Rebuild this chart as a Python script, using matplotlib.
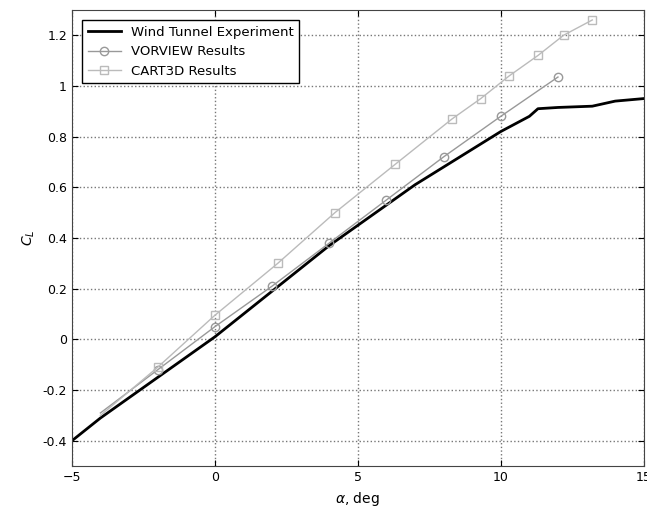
import numpy as np
import matplotlib.pyplot as plt

# wind tunnel data
alpha_wt = [-5, -4, -3, -2, -1, 0, 1, 2, 3, 4, 5, 6, 7, 8, 9, 10, 11, 11.3, 12, 13.2, 14, 15]
cl_wt = [-0.40, -0.31, -0.23, -0.15, -0.07, 0.01, 0.10, 0.19, 0.28, 0.37, 0.45, 0.53, 0.61, 0.68, 0.75, 0.82, 0.88, 0.91, 0.915, 0.92, 0.94, 0.95]

# VORVIEW
alpha_vv = [-4, -2, 0, 2, 4, 6, 8, 10, 12]
cl_vv = [-0.29, -0.12, 0.05, 0.21, 0.38, 0.55, 0.72, 0.88, 1.035]

# CART3D
alpha_c3 = [-4, -2, 0, 2.2, 4.2, 6.3, 8.3, 9.3, 10.3, 11.3, 12.2, 13.2]
cl_c3 = [-0.30, -0.11, 0.095, 0.30, 0.50, 0.69, 0.87, 0.95, 1.04, 1.12, 1.20, 1.26]

xticks = [-5, 0, 5, 10, 15]
yticks = [-0.4, -0.2, 0, 0.2, 0.4, 0.6, 0.8, 1, 1.2]
ytick_labels = ['-0.4', '-0.2', '0', '0.2', '0.4', '0.6', '0.8', '1', '1.2']

fig = plt.figure(figsize=(6.47, 5.18), dpi=100)
ax = fig.add_axes([0.111, 0.100, 0.884, 0.881])

ax.plot(alpha_wt, cl_wt, color='black', lw=2, label='Wind Tunnel Experiment')
ax.plot(alpha_vv, cl_vv, color='#999999', lw=1, marker='o', ms=6, mfc='none',
        mec='#999999', markevery=list(range(1, len(alpha_vv))), label='VORVIEW Results')
ax.plot(alpha_c3, cl_c3, color='#bbbbbb', lw=1, marker='s', ms=6, mfc='none',
        mec='#bbbbbb', markevery=list(range(1, len(alpha_c3))), label='CART3D Results')

ax.set_xlim(-5, 15)
ax.set_ylim(-0.5, 1.3)
ax.set_xticks(xticks)
ax.set_yticks(yticks)
ax.set_yticklabels(ytick_labels)
ax.grid(True, linestyle=':', color='#777777', linewidth=1)
ax.tick_params(direction='in', labelsize=9, length=4, top=True, right=True)
for s in ax.spines.values():
    s.set_color('#444444')

ax.set_xlabel(r'$\alpha$, deg', fontsize=10)
ax.set_ylabel(r'$C_L$', fontsize=10)

leg = ax.legend(loc='upper left', fontsize=9.5, fancybox=False, edgecolor='black',
                framealpha=1, borderaxespad=0.8, handlelength=2.5)
leg.get_frame().set_linewidth(1)

fig.savefig('out.png', dpi=100)
